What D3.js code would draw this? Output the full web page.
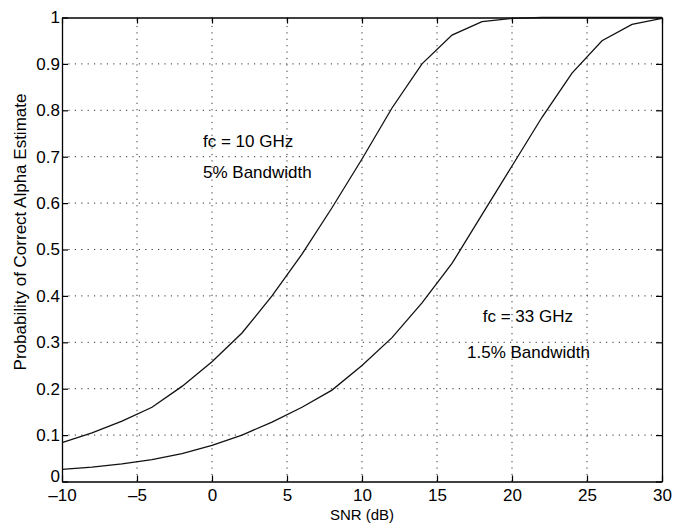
<!DOCTYPE html>
<html>
<head>
<meta charset="utf-8">
<script src="https://cdn.jsdelivr.net/npm/d3@7"></script>
<style>
  html, body { margin: 0; padding: 0; background: #fff; }
  svg { display: block; font-family: "Liberation Sans", Arial, Helvetica, sans-serif; }
</style>
</head>
<body>
<svg id="chart" width="686" height="523"></svg>
<script>
// ---- data ----
const snr = [-10, -8, -6, -4, -2, 0, 2, 4, 6, 8, 10, 12, 14, 16, 18, 20, 22, 24, 26, 28, 30];
const prob10GHz = [0.084, 0.105, 0.13, 0.16, 0.205, 0.258, 0.32, 0.40, 0.49, 0.59, 0.695, 0.805, 0.90, 0.962, 0.991, 0.998, 1.0, 1.0, 1.0, 1.0, 1.0];
const prob33GHz = [0.026, 0.031, 0.038, 0.047, 0.06, 0.078, 0.10, 0.128, 0.16, 0.197, 0.25, 0.31, 0.385, 0.47, 0.575, 0.68, 0.785, 0.88, 0.95, 0.985, 0.998];
const xTicks = [-10, -5, 0, 5, 10, 15, 20, 25, 30];
const xTickLabels = ["\u201310", "\u20135", "0", "5", "10", "15", "20", "25", "30"];
const yTicks = [0, 0.1, 0.2, 0.3, 0.4, 0.5, 0.6, 0.7, 0.8, 0.9, 1];
const yTickLabels = ["0", "0.1", "0.2", "0.3", "0.4", "0.5", "0.6", "0.7", "0.8", "0.9", "1"];
const annotations = [
  { x: -0.6, y: 0.72, text: "fc = 10 GHz" },
  { x: -0.6, y: 0.654, text: "5% Bandwidth" },
  { x: 18.05, y: 0.344, text: "fc = 33 GHz" },
  { x: 17.0, y: 0.2655, text: "1.5% Bandwidth" }
];
const xLabel = "SNR (dB)";
const yLabel = "Probability of Correct Alpha Estimate";

// ---- layout ----
const W = 686, H = 523;
const m = { left: 62, right: 24, top: 17.5, bottom: 41.5 };
const svg = d3.select("#chart");
const x = d3.scaleLinear().domain([-10, 30]).range([m.left, W - m.right]);
const y = d3.scaleLinear().domain([0, 1]).range([H - m.bottom, m.top]);
const fsTick = 17, fsAnn = 17, fsLab = 15;

// grid
const grid = svg.append("g").attr("stroke", "#333").attr("stroke-width", 1)
  .attr("stroke-dasharray", "1.2,5.2");
grid.selectAll("line.vx").data(xTicks.slice(1, -1)).join("line")
  .attr("x1", d => x(d)).attr("x2", d => x(d))
  .attr("y1", y(0)).attr("y2", y(1));
grid.selectAll("line.hy").data(yTicks.slice(1, -1)).join("line")
  .attr("y1", d => y(d)).attr("y2", d => y(d))
  .attr("x1", x(-10)).attr("x2", x(30));

// axes (MATLAB box style, inward ticks)
const tickLen = 6;
const axB = svg.append("g").attr("transform", `translate(0,${y(0)})`)
  .call(d3.axisBottom(x).tickValues(xTicks).tickFormat((d, i) => xTickLabels[i]).tickSizeInner(-tickLen).tickSizeOuter(0).tickPadding(7));
const axT = svg.append("g").attr("transform", `translate(0,${y(1)})`)
  .call(d3.axisTop(x).tickValues(xTicks).tickFormat("").tickSizeInner(-tickLen).tickSizeOuter(0));
const axL = svg.append("g").attr("transform", `translate(${x(-10)},0)`)
  .call(d3.axisLeft(y).tickValues(yTicks).tickFormat((d, i) => yTickLabels[i]).tickSizeInner(-tickLen).tickSizeOuter(0).tickPadding(2));
const axR = svg.append("g").attr("transform", `translate(${x(30)},0)`)
  .call(d3.axisRight(y).tickValues(yTicks).tickFormat("").tickSizeInner(-tickLen).tickSizeOuter(0));
[axB, axT, axL, axR].forEach(a => {
  a.select(".domain").attr("stroke", "#000").attr("stroke-width", 1.3);
  a.selectAll(".tick line").attr("stroke", "#000").attr("stroke-width", 1.2);
  a.selectAll("text").attr("font-size", fsTick).attr("fill", "#000")
    .attr("font-family", "'Liberation Sans', Arial, sans-serif");
});
// lift the "0" label slightly, as in the reference
axL.selectAll(".tick text").filter(d => d === 0).attr("y", -5.5);

// lines
const line = d3.line().x((d, i) => x(snr[i])).y(d => y(d));
[prob10GHz, prob33GHz].forEach(s => {
  svg.append("path").datum(s).attr("d", line)
    .attr("fill", "none").attr("stroke", "#111").attr("stroke-width", 1.3);
});

// annotations
svg.selectAll("text.ann").data(annotations).join("text")
  .attr("class", "ann")
  .attr("x", d => x(d.x)).attr("y", d => y(d.y))
  .attr("font-size", fsAnn).attr("fill", "#000")
  .text(d => d.text);

// axis labels
svg.append("text").attr("x", (x(-10) + x(30)) / 2).attr("y", 519.5)
  .attr("text-anchor", "middle").attr("font-size", fsLab).attr("fill", "#000").text(xLabel);
svg.append("text").attr("transform", `translate(26,232) rotate(-90)`)
  .attr("text-anchor", "middle").attr("font-size", 17).attr("fill", "#000").text(yLabel);
</script>
</body>
</html>
